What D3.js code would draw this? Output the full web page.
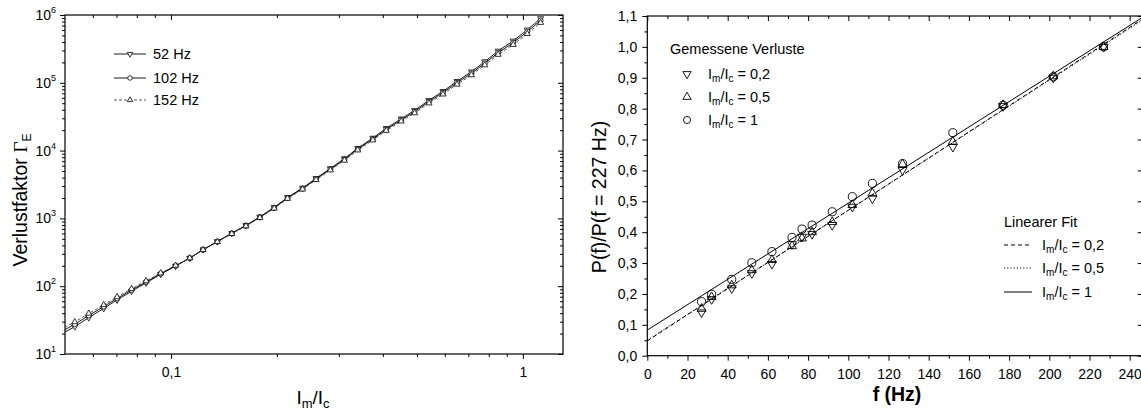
<!DOCTYPE html>
<html><head><meta charset="utf-8">
<script src="https://cdn.jsdelivr.net/npm/d3@7"></script>
<style>
body{margin:0;background:#fff}
svg{display:block}
text{font-family:"Liberation Sans",Arial,sans-serif;fill:#000}
</style>
</head><body>
<svg id="c" width="1141" height="414"></svg>
<script>
// ---------- DATA: left chart ----------
const ratio = [0.0485,0.0533,0.0584,0.0644,0.0703,0.0773,0.0850,0.0935,0.1031,0.1131,0.1234,0.1355,0.1489,0.1633,0.1789,0.1965,0.2144,0.2366,0.2584,0.2838,0.3111,0.3395,0.3746,0.4090,0.4512,0.4924,0.5408,0.5929,0.6500,0.7142,0.7795,0.8503,0.9384,1.0287,1.1229];
const loss52  = [19.4,25.3,34.4,47.0,62.7,84.5,112,150,198,260,346,458,605,789,1055,1454,2040,2810,3900,5450,7630,10850,15340,21300,29490,39180,55100,75000,105300,145700,205400,295100,415100,605100,888100];
const loss102 = [21,27.5,37,50,66,88,116,153,200,260,345,455,600,780,1040,1430,2000,2750,3800,5300,7400,10500,14800,20500,28300,37500,52600,71400,100000,138000,194000,278000,390000,567000,830000];
const loss152 = [22.8,29.7,39.6,53.0,69.3,91.5,119.5,156,202,260,344,452,595,771,1025,1406,1961,2688,3704,5152,7172,10150,14260,19700,27110,35820,50100,67800,94680,130300,182600,260900,364900,528900,771900];
const leftSeriesNames = ["52 Hz","102 Hz","152 Hz"];
const leftXMajor = [0.1, 1];
const leftXTickLabels = ["0,1","1"];
const leftXMinor = [0.06,0.07,0.08,0.09,0.2,0.3,0.4,0.5,0.6,0.7,0.8,0.9];
const leftYExponents = [1,2,3,4,5,6];

// ---------- DATA: right chart ----------
const freq = [27,32,42,52,62,72,77,82,92,102,112,127,152,177,202,227];
const pm02 = [0.140,0.183,0.218,0.267,0.297,0.361,0.385,0.394,0.423,0.482,0.509,0.601,0.676,0.808,0.900,1.0];
const pm05 = [0.152,0.190,0.228,0.277,0.310,0.355,0.380,0.400,0.433,0.488,0.526,0.620,0.693,0.812,0.905,1.0];
const pm1  = [0.175,0.199,0.247,0.301,0.337,0.383,0.410,0.423,0.466,0.515,0.558,0.622,0.722,0.811,0.903,1.0];
const ratioLabels = ["0,2","0,5","1"];
const fitIntercept = [0.048,0.050,0.083];
const fitSlope = [0.00423,0.00421,0.00411];
const rightXTicks = [0,20,40,60,80,100,120,140,160,180,200,220,240];
const rightYTicks = [0,0.1,0.2,0.3,0.4,0.5,0.6,0.7,0.8,0.9,1.0,1.1];
const rightYTickLabels = ["0,0","0,1","0,2","0,3","0,4","0,5","0,6","0,7","0,8","0,9","1,0","1,1"];

// ---------- DRAW ----------
const svg = d3.select("#c");
const FONT = '"Liberation Sans",Arial,sans-serif';

function styleAxis(g, fs){
  g.select(".domain").remove();
  g.attr("font-family", FONT).attr("font-size", fs || 14);
  g.selectAll("line").attr("stroke","#000").attr("stroke-width",1);
  g.selectAll("text").attr("fill","#000");
}
function imic(t, suffix, fs){
  const sub = Math.round(fs*0.68), d = Math.round(fs*0.22);
  t.append("tspan").text("I");
  t.append("tspan").attr("font-size",sub).attr("dy",d).text("m");
  t.append("tspan").attr("dy",-d).text("/I");
  t.append("tspan").attr("font-size",sub).attr("dy",d).text("c");
  if (suffix) t.append("tspan").attr("dy",-d).text(suffix);
}

// ===== Left chart =====
const L = {x0:65, x1:563, y0:15, y1:354};
const xL = d3.scaleLog().domain([0.05,1.3]).range([L.x0,L.x1]);
const yL = d3.scaleLog().domain([10,1e6]).range([L.y1,L.y0]);
const leftYMinor = [];
leftYExponents.slice(0,-1).forEach(e=>{ for(let k=2;k<10;k++) leftYMinor.push(k*Math.pow(10,e)); });
const leftYMajor = leftYExponents.map(e=>Math.pow(10,e));

svg.append("defs").append("clipPath").attr("id","clipL")
  .append("rect").attr("x",L.x0).attr("y",L.y0).attr("width",L.x1-L.x0).attr("height",L.y1-L.y0);

// bottom axis
svg.append("g").attr("transform",`translate(0,${L.y1})`)
  .call(d3.axisBottom(xL).tickValues(leftXMajor).tickFormat((d,i)=>leftXTickLabels[i]).tickSize(5).tickPadding(8))
  .call(g=>styleAxis(g,14));
svg.append("g").attr("transform",`translate(0,${L.y1})`)
  .call(d3.axisBottom(xL).tickValues(leftXMinor).tickFormat("").tickSize(3)).call(g=>styleAxis(g));
// top axis (inward)
svg.append("g").attr("transform",`translate(0,${L.y0})`)
  .call(d3.axisTop(xL).tickValues(leftXMajor).tickFormat("").tickSize(-5)).call(g=>styleAxis(g));
svg.append("g").attr("transform",`translate(0,${L.y0})`)
  .call(d3.axisTop(xL).tickValues(leftXMinor).tickFormat("").tickSize(-3)).call(g=>styleAxis(g));
// left axis
const yAxL = svg.append("g").attr("transform",`translate(${L.x0},0)`)
  .call(d3.axisLeft(yL).tickValues(leftYMajor).tickFormat("").tickSize(5).tickPadding(4))
  .call(g=>styleAxis(g,14));
yAxL.selectAll(".tick").each(function(d,i){
  const t = d3.select(this).append("text").attr("x",-9).attr("dy","0.32em")
    .attr("text-anchor","end").attr("fill","#000").attr("font-size",14);
  t.append("tspan").text("10");
  t.append("tspan").attr("font-size",9).attr("dy",-7).text(leftYExponents[i]);
});
svg.append("g").attr("transform",`translate(${L.x0},0)`)
  .call(d3.axisLeft(yL).tickValues(leftYMinor).tickFormat("").tickSize(3)).call(g=>styleAxis(g));
// right axis (inward)
svg.append("g").attr("transform",`translate(${L.x1},0)`)
  .call(d3.axisRight(yL).tickValues(leftYMajor).tickFormat("").tickSize(-5)).call(g=>styleAxis(g));
svg.append("g").attr("transform",`translate(${L.x1},0)`)
  .call(d3.axisRight(yL).tickValues(leftYMinor).tickFormat("").tickSize(-3)).call(g=>styleAxis(g));
// frame
svg.append("rect").attr("x",L.x0).attr("y",L.y0).attr("width",L.x1-L.x0).attr("height",L.y1-L.y0)
  .attr("fill","none").attr("stroke","#000").attr("stroke-width",1.2);

const leftSeries = [
  {name:leftSeriesNames[0], vals:loss52, sym:"down", dash:null, color:"#000"},
  {name:leftSeriesNames[1], vals:loss102, sym:"circle", dash:null, color:"#000"},
  {name:leftSeriesNames[2], vals:loss152, sym:"up", dash:"3,2", color:"#444"}
];
function symPath(kind, area){
  if (kind==="circle") return d3.symbol(d3.symbolCircle, area)();
  return d3.symbol(d3.symbolTriangle, area)();
}
const lineL = d3.line().x(d=>xL(d[0])).y(d=>yL(d[1]));
const gL = svg.append("g").attr("clip-path","url(#clipL)");
leftSeries.forEach(s=>{
  const pts = ratio.map((r,i)=>[r,s.vals[i]]);
  gL.append("path").datum(pts).attr("d",lineL).attr("fill","none")
    .attr("stroke",s.color).attr("stroke-width",0.9).attr("stroke-dasharray",s.dash);
  gL.selectAll(null).data(pts).enter().append("path")
    .attr("d",symPath(s.sym, s.sym==="circle"?20:16))
    .attr("transform",d=>`translate(${xL(d[0])},${yL(d[1])})${s.sym==="down"?" rotate(180)":""}`)
    .attr("fill","#fff").attr("stroke","#000").attr("stroke-width",0.8);
});
// left legend
const legRowsL = [54,78,100];
leftSeries.forEach((s,i)=>{
  const y = legRowsL[i];
  svg.append("line").attr("x1",114).attr("x2",146).attr("y1",y).attr("y2",y)
    .attr("stroke",s.color).attr("stroke-width",0.9).attr("stroke-dasharray",s.dash);
  svg.append("path").attr("d",symPath(s.sym, s.sym==="circle"?16:13))
    .attr("transform",`translate(130,${y})${s.sym==="down"?" rotate(180)":""}`)
    .attr("fill","#fff").attr("stroke","#000").attr("stroke-width",0.8);
  svg.append("text").attr("x",153).attr("y",y).attr("dy","0.36em").attr("font-size",14.5).text(s.name);
});
// axis titles
const ytL = svg.append("text").attr("transform","translate(27,200) rotate(-90)")
  .attr("text-anchor","middle").attr("font-size",19.5);
ytL.append("tspan").text("Verlustfaktor ");
ytL.append("tspan").attr("font-family",'"Liberation Serif","DejaVu Serif",serif').text("\u0393");
ytL.append("tspan").attr("font-size",12).attr("dy",4).text("E");
const xtL = svg.append("text").attr("x",313).attr("y",404).attr("text-anchor","middle").attr("font-size",19);
imic(xtL, null, 19);

// ===== Right chart =====
const R = {x0:647.3, y0:16, y1:355.7};
const xR = d3.scaleLinear().domain([0,246]).range([R.x0, R.x0+246*2.01]);
R.x1 = xR(246);
const yR = d3.scaleLinear().domain([0,1.1]).range([R.y1,R.y0]);
const rightXMinor = rightXTicks.map(v=>v+10).filter(v=>v<246);
const rightYMinor = rightYTicks.slice(0,-1).map(v=>v+0.05);

svg.select("defs").append("clipPath").attr("id","clipR")
  .append("rect").attr("x",R.x0).attr("y",R.y0).attr("width",R.x1-R.x0).attr("height",R.y1-R.y0);

svg.append("g").attr("transform",`translate(0,${R.y1})`)
  .call(d3.axisBottom(xR).tickValues(rightXTicks).tickFormat(d=>String(d)).tickSize(5).tickPadding(8))
  .call(g=>styleAxis(g,14));
svg.append("g").attr("transform",`translate(0,${R.y1})`)
  .call(d3.axisBottom(xR).tickValues(rightXMinor).tickFormat("").tickSize(3)).call(g=>styleAxis(g));
svg.append("g").attr("transform",`translate(0,${R.y0})`)
  .call(d3.axisTop(xR).tickValues(rightXTicks).tickFormat("").tickSize(-5)).call(g=>styleAxis(g));
svg.append("g").attr("transform",`translate(0,${R.y0})`)
  .call(d3.axisTop(xR).tickValues(rightXMinor).tickFormat("").tickSize(-3)).call(g=>styleAxis(g));
svg.append("g").attr("transform",`translate(${R.x0},0)`)
  .call(d3.axisLeft(yR).tickValues(rightYTicks).tickFormat((d,i)=>rightYTickLabels[i]).tickSize(5).tickPadding(5))
  .call(g=>styleAxis(g,14));
svg.append("g").attr("transform",`translate(${R.x0},0)`)
  .call(d3.axisLeft(yR).tickValues(rightYMinor).tickFormat("").tickSize(3)).call(g=>styleAxis(g));
svg.append("g").attr("transform",`translate(${R.x1},0)`)
  .call(d3.axisRight(yR).tickValues(rightYTicks).tickFormat("").tickSize(-4)).call(g=>styleAxis(g));
svg.append("rect").attr("x",R.x0).attr("y",R.y0).attr("width",R.x1-R.x0).attr("height",R.y1-R.y0)
  .attr("fill","none").attr("stroke","#000").attr("stroke-width",1.2);

// fit lines
const fitDash = ["4,3","1.2,2",null];
const gR = svg.append("g").attr("clip-path","url(#clipR)");
const lineR = d3.line().x(d=>xR(d[0])).y(d=>yR(d[1]));
fitIntercept.forEach((b,i)=>{
  const pts = [[0,b],[246,b+fitSlope[i]*246]];
  gR.append("path").datum(pts).attr("d",lineR).attr("fill","none")
    .attr("stroke","#000").attr("stroke-width",1).attr("stroke-dasharray",fitDash[i]);
});
// measured points
const rightSeries = [
  {vals:pm02, sym:"down"},
  {vals:pm05, sym:"up"},
  {vals:pm1, sym:"circle"}
];
rightSeries.forEach(s=>{
  gR.selectAll(null).data(freq.map((f,i)=>[f,s.vals[i]])).enter().append("path")
    .attr("d",symPath(s.sym, s.sym==="circle"?52:34))
    .attr("transform",d=>`translate(${xR(d[0])},${yR(d[1])})${s.sym==="down"?" rotate(180)":""}`)
    .attr("fill","none").attr("stroke","#000").attr("stroke-width",0.9);
});
// legend 1
svg.append("text").attr("x",670).attr("y",49).attr("dy","0.36em").attr("font-size",14.5).text("Gemessene Verluste");
const legRowsR1 = [74,97,120];
rightSeries.forEach((s,i)=>{
  const y = legRowsR1[i];
  svg.append("path").attr("d",symPath(s.sym, s.sym==="circle"?40:30))
    .attr("transform",`translate(687,${y})${s.sym==="down"?" rotate(180)":""}`)
    .attr("fill","none").attr("stroke","#000").attr("stroke-width",0.9);
  const t = svg.append("text").attr("x",708).attr("y",y).attr("dy","0.36em").attr("font-size",14.5);
  imic(t, " = " + ratioLabels[i], 14.5);
});
// legend 2
svg.append("text").attr("x",1004).attr("y",222).attr("dy","0.36em").attr("font-size",14.5).text("Linearer Fit");
const legRowsR2 = [245,268,292];
fitIntercept.forEach((b,i)=>{
  const y = legRowsR2[i];
  svg.append("line").attr("x1",1004).attr("x2",1032).attr("y1",y).attr("y2",y)
    .attr("stroke","#000").attr("stroke-width",1).attr("stroke-dasharray",fitDash[i]);
  const t = svg.append("text").attr("x",1042).attr("y",y).attr("dy","0.36em").attr("font-size",14.5);
  imic(t, " = " + ratioLabels[i], 14.5);
});
// axis titles
svg.append("text").attr("transform","translate(606,197) rotate(-90)").attr("text-anchor","middle")
  .attr("font-size",19.5).text("P(f)/P(f = 227 Hz)");
svg.append("text").attr("x",897).attr("y",401).attr("text-anchor","middle").attr("font-size",19.5)
  .attr("font-weight","bold").text("f (Hz)");
</script>
</body></html>
